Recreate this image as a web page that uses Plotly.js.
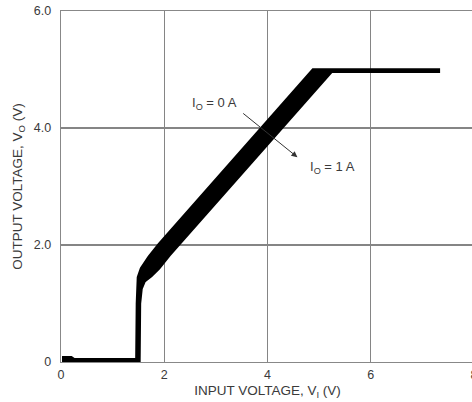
<!DOCTYPE html>
<html>
<head>
<meta charset="utf-8">
<script src="https://cdn.plot.ly/plotly-3.0.1.min.js"></script>
<style>
html,body{margin:0;padding:0;overflow:hidden;background:#fff;width:472px;height:402px;}
#chart{width:484px;height:402px;}
</style>
</head>
<body>
<div id="chart"></div>
<script>
// Io = 0 A curve (upper-left edge of band)
var vi0 = [0.02, 0.20, 0.25, 1.46, 1.47, 1.49, 1.55, 1.70, 1.90, 4.88, 7.32];
var vo0 = [0.08, 0.08, 0.05, 0.05, 1.00, 1.45, 1.60, 1.80, 2.02, 5.00, 5.00];
// Io = 1 A curve (lower-right edge of band)
var vi1 = [0.02, 1.52, 1.53, 1.56, 1.62, 1.75, 1.90, 2.10, 5.24, 7.32];
var vo1 = [0.02, 0.02, 1.00, 1.25, 1.38, 1.47, 1.60, 1.82, 4.96, 4.96];

var xTicks = [0, 2, 4, 6, 8];
var xTickText = ["0", "2", "4", "6", "8"];
var yTicks = [0, 2, 4, 6];
var yTickText = ["0", "2.0", "4.0", "6.0"];

// closed band polygon: Io=0 forward, Io=1 reversed
var bx = vi0.concat(vi1.slice().reverse());
var by = vo0.concat(vo1.slice().reverse());

var font = {family: "Liberation Sans, Arial, sans-serif", color: "#3a3a3a"};

var traces = [{
  x: bx, y: by, type: "scatter", mode: "lines",
  fill: "toself", fillcolor: "#000",
  line: {color: "#000", width: 2.4},
  hoverinfo: "skip", showlegend: false
}];

var axisCommon = {
  showline: true, mirror: true, linecolor: "#888", linewidth: 1.3,
  showgrid: true, gridcolor: "#858585", gridwidth: 1.2,
  zeroline: false, ticks: "", tickmode: "array",
  tickfont: {family: font.family, color: font.color, size: 12.5}
};

var layout = {
  width: 484, height: 402,
  margin: {l: 61, r: 10, t: 11, b: 40},
  paper_bgcolor: "#fff", plot_bgcolor: "#fff",
  showlegend: false,
  xaxis: Object.assign({}, axisCommon, {
    range: [0, 8], tickvals: xTicks, ticktext: xTickText,
    ticklabelstandoff: 1,
    title: {text: "INPUT VOLTAGE, V<sub>I</sub> (V)", standoff: 4,
            font: {family: font.family, color: font.color, size: 13.5}}
  }),
  yaxis: Object.assign({}, axisCommon, {
    range: [0, 6], tickvals: yTicks, ticktext: yTickText,
    ticklabelstandoff: 6,
    title: {text: "OUTPUT VOLTAGE, V<sub>O</sub> (V)", standoff: 8,
            font: {family: font.family, color: font.color, size: 13.5}}
  }),
  annotations: [
    {x: 2.98, y: 4.42, xref: "x", yref: "y", text: "I<sub>O</sub> = 0 A",
     showarrow: false, font: {family: font.family, color: font.color, size: 13}},
    {x: 5.26, y: 3.33, xref: "x", yref: "y", text: "I<sub>O</sub> = 1 A",
     showarrow: false, font: {family: font.family, color: font.color, size: 13}},
    {x: 4.58, y: 3.50, ax: 3.50, ay: 4.27, xref: "x", yref: "y",
     axref: "x", ayref: "y", text: "", showarrow: true,
     arrowhead: 2, arrowsize: 1.2, arrowwidth: 1, arrowcolor: "#333"}
  ]
};

Plotly.newPlot("chart", traces, layout, {staticPlot: true, displayModeBar: false});
</script>
</body>
</html>
